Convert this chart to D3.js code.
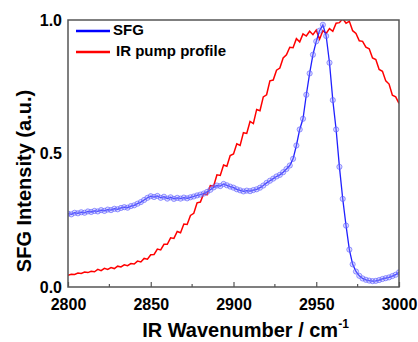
<!DOCTYPE html>
<html>
<head>
<meta charset="utf-8">
<script src="https://cdn.jsdelivr.net/npm/d3@7"></script>
<style>
	body { margin: 0; background: #fff; }
	text { font-family: "Liberation Sans", Arial, sans-serif; font-weight: bold; }
</style>
</head>
<body>
<svg id="chart" width="418" height="342"></svg>
<script>
// wavenumber grid, cm-1 (2 cm-1 steps)
const wavenumbers = d3.range(2800, 3001, 2);

// SFG intensity
const sfgValues = [
	0.275, 0.272, 0.278, 0.276, 0.280, 0.278, 0.283, 0.281, 0.285, 0.283,
	0.288, 0.285, 0.290, 0.288, 0.293, 0.291, 0.296, 0.299, 0.297, 0.303,
	0.306, 0.312, 0.318, 0.326, 0.334, 0.340, 0.337, 0.341, 0.334, 0.338,
	0.331, 0.336, 0.330, 0.334, 0.331, 0.335, 0.332, 0.336, 0.339, 0.343,
	0.346, 0.350, 0.356, 0.364, 0.373, 0.380, 0.378, 0.386, 0.381, 0.376,
	0.372, 0.366, 0.362, 0.358, 0.361, 0.359, 0.363, 0.366, 0.372, 0.380,
	0.390, 0.398, 0.406, 0.414, 0.420, 0.430, 0.442, 0.455, 0.480, 0.530,
	0.590, 0.630, 0.720, 0.800, 0.870, 0.920, 0.960, 0.982, 0.940, 0.840,
	0.700, 0.590, 0.450, 0.330, 0.230, 0.140, 0.085, 0.058, 0.042, 0.032,
	0.027, 0.024, 0.022, 0.023, 0.026, 0.030, 0.033, 0.036, 0.041, 0.046,
	0.055
];

// IR pump profile
const irValues = [
	0.044, 0.048, 0.047, 0.052, 0.051, 0.056, 0.054, 0.059, 0.057, 0.066,
	0.061, 0.070, 0.066, 0.073, 0.069, 0.078, 0.075, 0.083, 0.080, 0.088,
	0.086, 0.097, 0.094, 0.107, 0.104, 0.121, 0.122, 0.142, 0.139, 0.160,
	0.160, 0.184, 0.182, 0.208, 0.203, 0.236, 0.234, 0.268, 0.276, 0.315,
	0.318, 0.350, 0.345, 0.380, 0.378, 0.420, 0.418, 0.457, 0.452, 0.492,
	0.498, 0.536, 0.530, 0.578, 0.575, 0.620, 0.612, 0.665, 0.660, 0.712,
	0.720, 0.772, 0.775, 0.812, 0.820, 0.858, 0.870, 0.898, 0.896, 0.930,
	0.918, 0.948, 0.940, 0.958, 0.945, 0.962, 0.928, 0.960, 0.950, 0.968,
	0.958, 0.988, 0.990, 1.005, 0.988, 0.995, 0.960, 0.950, 0.922, 0.920,
	0.898, 0.892, 0.858, 0.852, 0.815, 0.808, 0.772, 0.760, 0.718, 0.712,
	0.688
];

const xTicks = [2800, 2850, 2900, 2950, 3000];
const xMinorTicks = [2825, 2875, 2925, 2975];
const yTicks = [0.0, 0.5, 1.0];

const legendItems = [
	{ name: "SFG", color: "#0000ff" },
	{ name: "IR pump profile", color: "#ff0000" }
];

const svg = d3.select("svg#chart");
const margin = { top: 20, right: 19, bottom: 55, left: 68 };
const width = +svg.attr("width");
const height = +svg.attr("height");
const chartWidth = width - margin.left - margin.right;
const chartHeight = height - margin.top - margin.bottom;

const x = d3.scaleLinear().domain([2800, 3000]).range([0, chartWidth]);
const y = d3.scaleLinear().domain([0, 1]).range([chartHeight, 0]);

const g = svg.append("g").attr("transform", `translate(${margin.left},${margin.top})`);

const clip = svg.append("defs").append("clipPath").attr("id", "plotClip");
clip.append("rect").attr("x", 0).attr("y", 0).attr("width", chartWidth).attr("height", chartHeight);

const sfg = wavenumbers.map((w, i) => ({ w: w, v: sfgValues[i] }));
const ir = wavenumbers.map((w, i) => ({ w: w, v: irValues[i] }));

const line = d3.line().x((d) => x(d.w)).y((d) => y(d.v));

const plot = g.append("g").attr("clip-path", "url(#plotClip)");

plot.append("path")
	.datum(ir)
	.attr("d", line)
	.attr("fill", "none")
	.attr("stroke", "#ff0000")
	.attr("stroke-width", 1.5);

plot.append("path")
	.datum(sfg)
	.attr("d", line)
	.attr("fill", "none")
	.attr("stroke", "#2020ff")
	.attr("stroke-width", 1.3);

plot.selectAll("circle.sfg")
	.data(sfg)
	.enter()
	.append("circle")
	.attr("class", "sfg")
	.attr("cx", (d) => x(d.w))
	.attr("cy", (d) => y(d.v))
	.attr("r", 2.6)
	.attr("fill", "#9999ff")
	.attr("fill-opacity", 0.35)
	.attr("stroke", "#5555ff")
	.attr("stroke-opacity", 0.65)
	.attr("stroke-width", 0.9);

// frame
g.append("rect")
	.attr("x", 0)
	.attr("y", 0)
	.attr("width", chartWidth)
	.attr("height", chartHeight)
	.attr("fill", "none")
	.attr("stroke", "#555")
	.attr("stroke-width", 1.5);

// x axis (ticks inward)
const xAxis = d3.axisBottom(x).tickValues(xTicks).tickSize(-5).tickPadding(12).tickFormat(d3.format("d"));
const xAxisG = g.append("g").attr("transform", `translate(0,${chartHeight})`).call(xAxis);
xAxisG.select(".domain").remove();
xAxisG.selectAll("line").attr("stroke", "#555").attr("stroke-width", 1.2);
xAxisG.selectAll("text").style("font-size", "16px").style("fill", "#000");

xAxisG.selectAll("line.minor")
	.data(xMinorTicks)
	.enter()
	.append("line")
	.attr("class", "minor")
	.attr("x1", (d) => x(d))
	.attr("x2", (d) => x(d))
	.attr("y1", 0)
	.attr("y2", -3)
	.attr("stroke", "#555")
	.attr("stroke-width", 1.2);

// y axis, labels only
const yAxis = d3.axisLeft(y).tickValues(yTicks).tickSize(0).tickPadding(6).tickFormat(d3.format(".1f"));
const yAxisG = g.append("g").call(yAxis);
yAxisG.select(".domain").remove();
yAxisG.selectAll("text").style("font-size", "16px").style("fill", "#000");

// axis titles
const xTitle = svg.append("text")
	.attr("x", margin.left + chartWidth / 2 + 12)
	.attr("y", 337)
	.attr("text-anchor", "middle")
	.style("font-size", "20px");
xTitle.append("tspan").text("IR Wavenumber / cm");
xTitle.append("tspan").attr("dy", -9).style("font-size", "12px").text("-1");

svg.append("text")
	.attr("transform", "translate(31,181) rotate(-90)")
	.attr("text-anchor", "middle")
	.style("font-size", "20px")
	.text("SFG Intensity (a.u.)");

// legend
const legend = g.append("g").attr("transform", "translate(8,11)");
legendItems.forEach(function (item, i) {
	legend.append("line")
		.attr("x1", 0)
		.attr("x2", 34)
		.attr("y1", i * 21)
		.attr("y2", i * 21)
		.attr("stroke", item.color)
		.attr("stroke-width", 2.5);
	legend.append("text")
		.attr("x", i === 0 ? 37 : 40)
		.attr("y", i * 21)
		.attr("dominant-baseline", "middle")
		.style("font-size", "15px")
		.text(item.name);
});
</script>
</body>
</html>
